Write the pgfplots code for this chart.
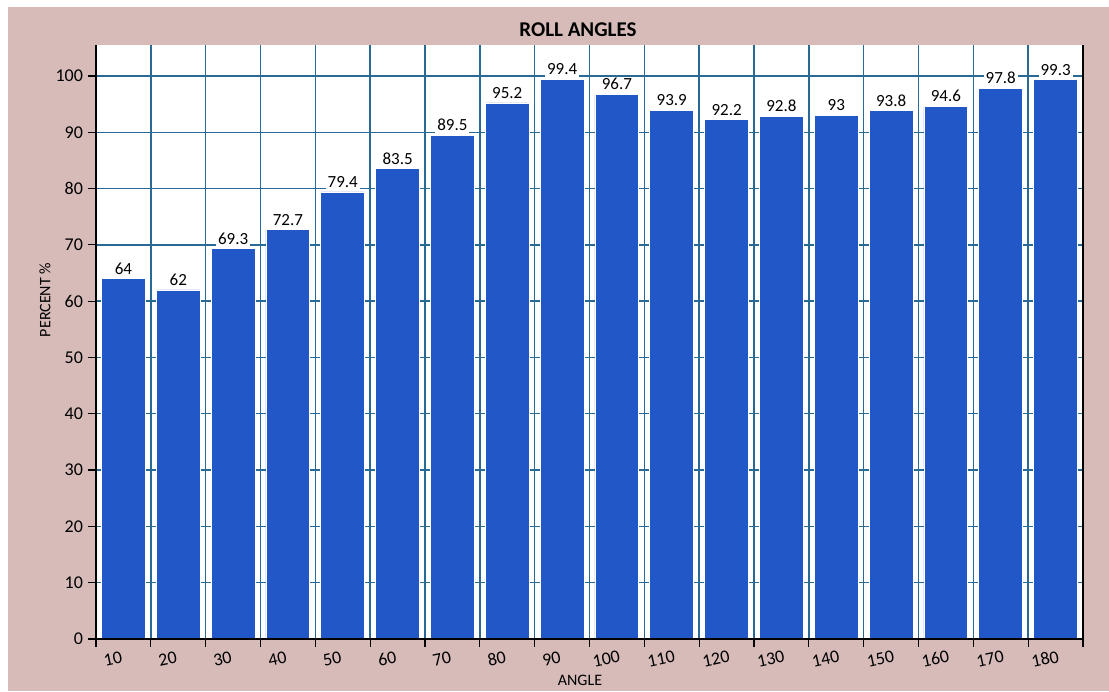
\documentclass[border=0pt]{standalone}
\usepackage{pgfplots}
\pgfplotsset{compat=1.18}
\usepackage{fontspec}
\setmainfont{Carlito}
\definecolor{bgpink}{RGB}{214,187,185}
\definecolor{barblue}{RGB}{34,87,200}
\definecolor{gridblue}{RGB}{40,105,150}
\begin{document}
\begin{tikzpicture}[x=1pt,y=1pt]
\fill[white] (0,0) rectangle (554.5,345.5);
\fill[bgpink] (4,0) rectangle (554.5,342);
\begin{axis}[
  at={(48pt,26pt)}, anchor=south west,
  scale only axis, width=493.5pt, height=297pt,
  xmin=0, xmax=18, ymin=0, ymax=105.5,
  ybar, bar width=0.8, bar shift=0pt,
  axis background/.style={fill=white},
  axis line style={draw=none},
  xtick={0,...,18},
  xticklabels={10,20,30,40,50,60,70,80,90,100,110,120,130,140,150,160,170,180,{}},
  ytick={0,10,...,100},
  xtick pos=lower, ytick pos=left,
  grid=major,
  major grid style={draw=gridblue, line width=0.7pt},
  tick align=outside,
  major tick length=4pt,
  tick style={black, line width=0.6pt},
  /pgf/number format/assume math mode=true,
  tick label style={font=\fontsize{9}{10}\selectfont},
  x tick label style={rotate=12, anchor=north, xshift=7pt, yshift=-1pt},
  y tick label style={xshift=1pt},
  nodes near coords,
  nodes near coords style={font=\fontsize{8.5}{9}\selectfont, fill=white, inner sep=1pt, anchor=south, yshift=1pt},
  point meta=explicit symbolic,
  clip=false,
]
\addplot[fill=barblue, draw=white, line width=0.4pt] table[meta=lab] {
x y lab
0.5 64 64
1.5 62 62
2.5 69.3 69.3
3.5 72.7 72.7
4.5 79.4 79.4
5.5 83.5 83.5
6.5 89.5 89.5
7.5 95.2 95.2
8.5 99.4 99.4
9.5 96.7 96.7
10.5 93.9 93.9
11.5 92.2 92.2
12.5 92.8 92.8
13.5 93 93
14.5 93.8 93.8
15.5 94.6 94.6
16.5 97.8 97.8
17.5 99.3 99.3
};
\draw[black, line width=1.3pt] (rel axis cs:0,1) -- (rel axis cs:0,0) -- (rel axis cs:1,0) -- (rel axis cs:1,1);
\end{axis}
\node[font=\bfseries\fontsize{10.5}{12}\selectfont] at (289,330.5) {ROLL ANGLES};
\node[font=\fontsize{8}{9}\selectfont, rotate=90] at (22.5,195.5) {PERCENT \%};
\node[font=\fontsize{8}{9}\selectfont] at (290,5.5) {ANGLE};
\end{tikzpicture}
\end{document}
